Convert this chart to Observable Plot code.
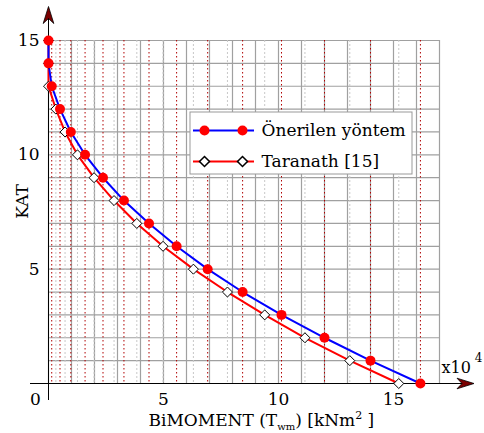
<!DOCTYPE html>
<html>
<head>
<meta charset="utf-8">
<script src="https://cdn.jsdelivr.net/npm/d3@7"></script>
<script src="https://cdn.jsdelivr.net/npm/@observablehq/plot@0.6"></script>
<style>
  html, body { margin: 0; padding: 0; background: white; }
</style>
</head>
<body>
<div id="chart"></div>
<script>
// ---- data ----
const floors   = [0, 1, 2, 3, 4, 5, 6, 7, 8, 9, 10, 11, 12, 13, 14, 15];
const onerilen = [16.17, 14.0, 12.0, 10.13, 8.44, 6.92, 5.57, 4.37, 3.28, 2.37, 1.59, 0.97, 0.50, 0.14, 0.0, 0.0];
const taranath = [15.23, 13.10, 11.15, 9.40, 7.78, 6.30, 4.98, 3.84, 2.85, 1.98, 1.26, 0.72, 0.32, 0.0, 0.0, 0.0];
const xTicks = [5, 10, 15];
const yTicks = [5, 10, 15];
const xGrid = [0, 1, 2, 3, 4, 5, 6, 7, 8, 9, 10, 11, 12, 13, 14, 15, 16, 17];
const yGrid = [0, 1, 2, 3, 4, 5, 6, 7, 8, 9, 10, 11, 12, 13, 14, 15];
const seriesNames = ["Önerilen yöntem", "Taranath [15]"];
const xLabel = "BiMOMENT (Twm) [kNm2 ]";
const yLabel = "KAT";
const xExp = "x10";
const xExpPow = "4";

const blueData = floors.map((f, i) => ({x: onerilen[i], y: f}));
const redData  = floors.map((f, i) => ({x: taranath[i], y: f}));

// ---- layout ----
const W = 484, H = 433, ML = 48, MR = 45, MT = 40, MB = 50;
const XMAX = 17, YMAX = 15;
const px2x = px => (px - ML) / ((W - ML - MR) / XMAX);
const py2y = py => (H - MB - py) / ((H - MB - MT) / YMAX);

const arrowSymbol = {
  draw(ctx) {
    ctx.moveTo(0, -17);
    ctx.lineTo(5.3, 0);
    ctx.lineTo(0, -5);
    ctx.lineTo(-5.3, 0);
    ctx.closePath();
  }
};

const legendRows = [
  {label: seriesNames[0], y: py2y(130), line: "blue", symbol: "circle"},
  {label: seriesNames[1], y: py2y(161), line: "red", symbol: "diamond2"}
];
const legendMarkers = legendRows.flatMap(d => [{...d, x: px2x(204)}, {...d, x: px2x(242)}]);

const FONT = "DejaVu Serif";

const plot = Plot.plot({
  width: W, height: H,
  marginLeft: ML, marginRight: MR, marginTop: MT, marginBottom: MB,
  x: {domain: [0, XMAX], axis: null},
  y: {domain: [0, YMAX], axis: null},
  style: {fontFamily: FONT, fontSize: "17px", background: "white", overflow: "visible", color: "black"},
  marks: [
    // grid
    Plot.ruleX(xGrid, {stroke: "#a0a0a0", strokeWidth: 1.2}),
    Plot.ruleY(yGrid, {stroke: "#a0a0a0", strokeWidth: 1.2}),
    Plot.ruleX(taranath, {stroke: "#c8c8c8", strokeDasharray: "2,2", strokeWidth: 1}),
    Plot.ruleX(onerilen, {stroke: "#b00000", strokeDasharray: "1.5,2.5", strokeWidth: 1}),
    // axes lines
    Plot.ruleX([0], {y1: py2y(400), y2: py2y(12), stroke: "black", strokeWidth: 1}),
    Plot.ruleY([0], {x1: px2x(30), x2: px2x(466), stroke: "black", strokeWidth: 1}),
    Plot.dot([{x: 0, y: py2y(23)}], {x: "x", y: "y", symbol: arrowSymbol, r: 5, fill: "#7a0000", stroke: "black", strokeWidth: 0.8}),
    Plot.dot([{x: px2x(456.5), y: 0}], {x: "x", y: "y", symbol: arrowSymbol, r: 5, rotate: 90, fill: "#7a0000", stroke: "black", strokeWidth: 0.8}),
    // series
    Plot.line(redData, {x: "x", y: "y", stroke: "red", strokeWidth: 2}),
    Plot.line(blueData, {x: "x", y: "y", stroke: "blue", strokeWidth: 2}),
    Plot.dot(redData, {x: "x", y: "y", symbol: "diamond2", r: 4.5, stroke: "black", fill: "white", strokeWidth: 1}),
    Plot.dot(blueData, {x: "x", y: "y", r: 5, fill: "red"}),
    // tick labels
    Plot.text(yTicks, {x: 0, y: d => d, text: d => String(d), textAnchor: "end", dx: -9}),
    Plot.text(xTicks, {x: d => d, y: 0, text: d => String(d), dy: 16}),
    Plot.text(["0"], {x: 0, y: 0, text: d => d, dx: -13, dy: 16}),
    Plot.text([xExp], {x: XMAX, y: 0, text: d => d, textAnchor: "start", dx: 2, dy: -16, fontSize: 16}),
    Plot.text([xExpPow], {x: XMAX, y: 0, text: d => d, dx: 39, dy: -25, fontSize: 12}),
    // axis titles
    Plot.text([xLabel], {x: px2x(148), y: 0, text: d => d, textAnchor: "start", dy: 37}),
    Plot.text([yLabel], {x: 0, y: py2y(201), text: d => d, rotate: -90, dx: -26}),
    // legend
    Plot.rect([0], {x1: px2x(190), x2: px2x(412), y1: py2y(174), y2: py2y(112), fill: "white", stroke: "#999", strokeWidth: 1}),
    Plot.ruleY(legendRows, {y: "y", x1: px2x(193), x2: px2x(254), stroke: "line", strokeWidth: 2}),
    Plot.dot(legendMarkers.filter(d => d.symbol === "circle"), {x: "x", y: "y", r: 5, fill: "red"}),
    Plot.dot(legendMarkers.filter(d => d.symbol === "diamond2"), {x: "x", y: "y", r: 4.5, symbol: "diamond2", fill: "white", stroke: "black"}),
    Plot.text(legendRows, {x: px2x(261), y: "y", text: "label", textAnchor: "start"})
  ]
});

// sub/superscripts in the x-axis title
d3.select(plot).selectAll("text").filter(function () { return this.textContent === xLabel; }).each(function () {
  const t = d3.select(this);
  t.text(null);
  t.append("tspan").text("BiMOMENT (T");
  t.append("tspan").attr("font-size", 10).attr("dy", 4).text("wm");
  t.append("tspan").attr("dy", -4).text(") [kNm");
  t.append("tspan").attr("font-size", 11).attr("dy", -7).text("2");
  t.append("tspan").attr("dy", 7).text(" ]");
});

document.getElementById("chart").appendChild(plot);
</script>
</body>
</html>
